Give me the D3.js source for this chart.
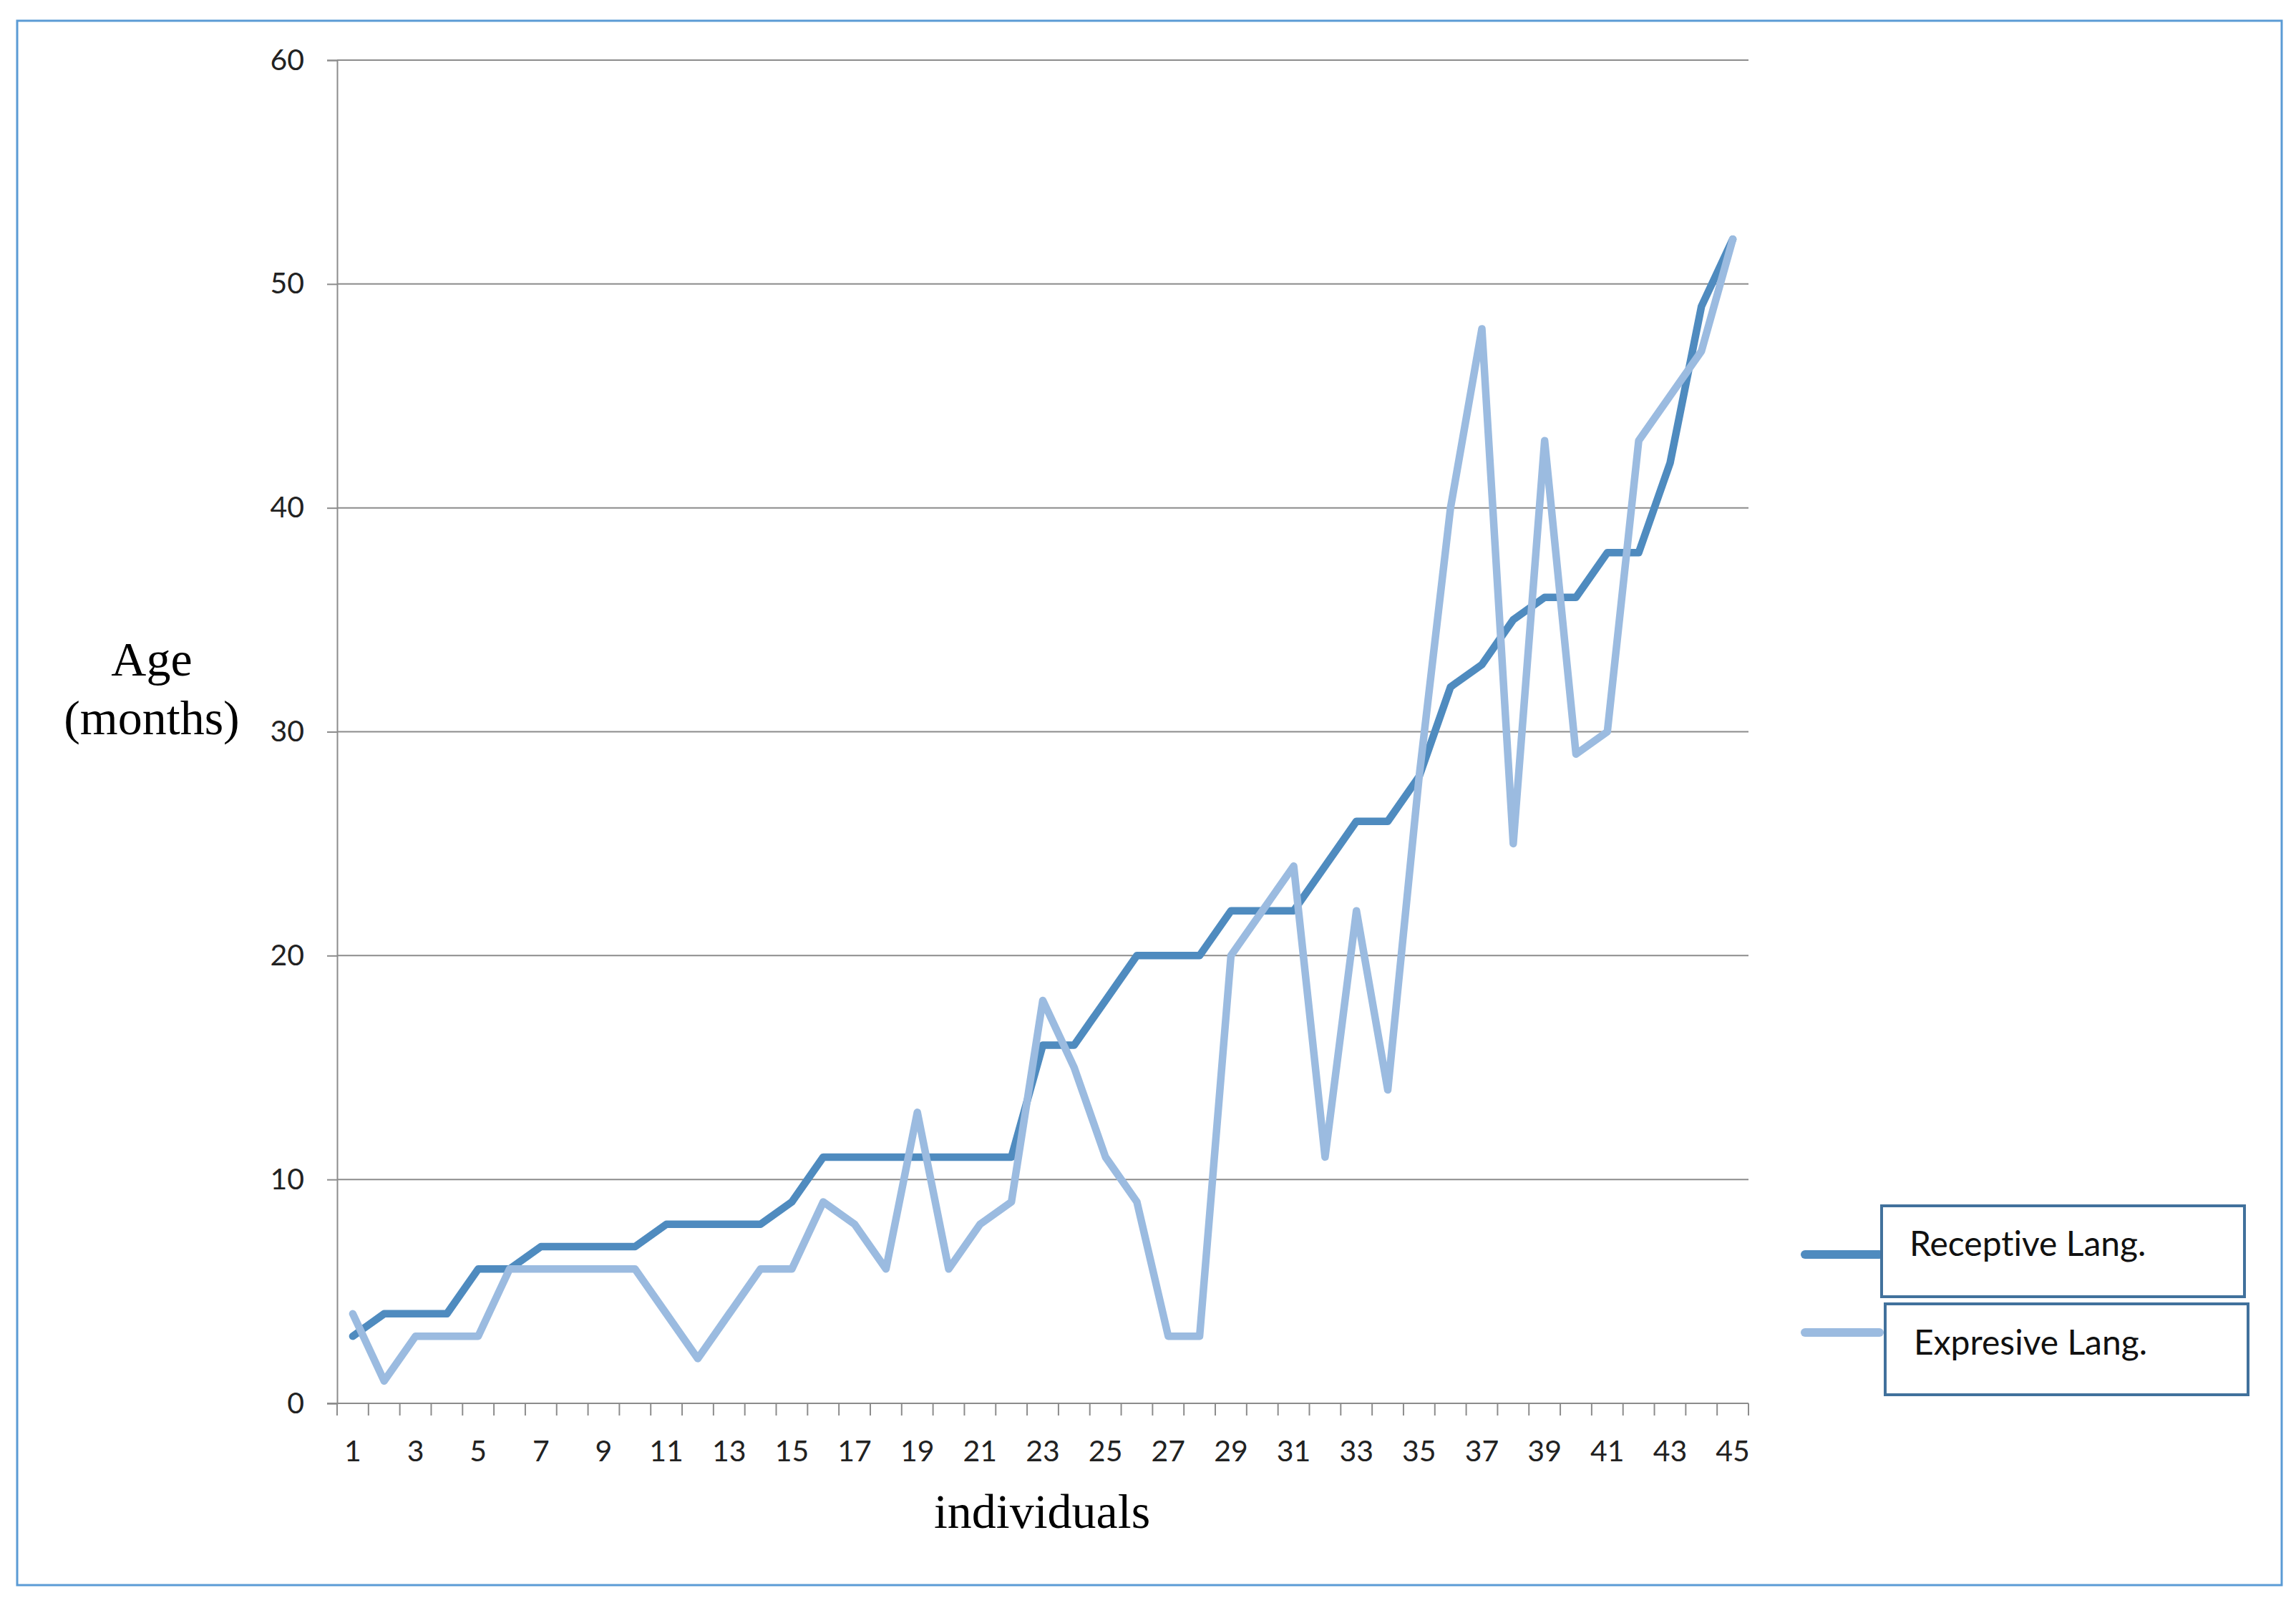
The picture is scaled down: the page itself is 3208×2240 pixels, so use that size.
<!DOCTYPE html>
<html>
<head>
<meta charset="utf-8">
<script src="https://cdn.jsdelivr.net/npm/d3@7"></script>
<style>
  html, body { margin: 0; padding: 0; background: #fff; }
  svg { display: block; }
  text { font-variant-ligatures: none; }
</style>
</head>
<body>
<div id="chart"></div>
<script>
// individuals 1..45
const individuals = d3.range(1, 46);

// ages in months
const receptive = [3, 4, 4, 4, 6, 6, 7, 7, 7, 7, 8, 8, 8, 8, 9, 11, 11, 11, 11, 11, 11, 11,
    16, 16, 18, 20, 20, 20, 22, 22, 22, 24, 26, 26, 28, 32, 33, 35, 36, 36, 38, 38, 42, 49, 52];
const expresive = [4, 1, 3, 3, 3, 6, 6, 6, 6, 6, 4, 2, 4, 6, 6, 9, 8, 6, 13, 6, 8, 9,
    18, 15, 11, 9, 3, 3, 20, 22, 24, 11, 22, 14, 28, 40, 48, 25, 43, 29, 30, 43, 45, 47, 52];

const yTicks = [0, 10, 20, 30, 40, 50, 60];
const xTickLabels = individuals.filter(d => d % 2 === 1);

const seriesNames = ['Receptive Lang.', 'Expresive Lang.'];
const seriesColors = ['#4f8bbf', '#9bbbe0'];

const W = 3208, H = 2240;
const plot = { left: 471, right: 2443, top: 84, bottom: 1961 };

const svg = d3.select('#chart').append('svg')
    .attr('width', W)
    .attr('height', H);

// outer frame
svg.append('rect')
    .attr('x', 24).attr('y', 29)
    .attr('width', 3164).attr('height', 2186)
    .attr('fill', '#fff')
    .attr('stroke', '#5b9bd5')
    .attr('stroke-width', 3);

const x = d3.scaleBand()
    .domain(individuals)
    .range([plot.left, plot.right]);

const y = d3.scaleLinear()
    .domain([0, 60])
    .range([plot.bottom, plot.top]);

const gray = '#8c8c8c';
const tickFont = 'Lato, "Open Sans", sans-serif';

// horizontal gridlines
svg.append('g')
    .selectAll('line')
    .data(yTicks.filter(d => d > 0))
    .join('line')
    .attr('x1', plot.left).attr('x2', plot.right)
    .attr('y1', d => y(d)).attr('y2', d => y(d))
    .attr('stroke', gray)
    .attr('stroke-width', 2);

// y axis
const yAxis = svg.append('g')
    .attr('transform', `translate(${plot.left},0)`)
    .call(d3.axisLeft(y).tickValues(yTicks).tickSize(14).tickPadding(32));
yAxis.select('.domain').attr('stroke', gray).attr('stroke-width', 2);
yAxis.selectAll('.tick line').attr('stroke', gray).attr('stroke-width', 2);
yAxis.selectAll('.tick text')
    .attr('font-family', tickFont)
    .attr('font-size', 41)
    .attr('fill', '#222');

// x axis: ticks on category boundaries, labels on odd individuals
const xAxisG = svg.append('g')
    .attr('transform', `translate(0,${plot.bottom})`);
xAxisG.append('line')
    .attr('x1', plot.left - 14).attr('x2', plot.right)
    .attr('stroke', gray).attr('stroke-width', 2);
xAxisG.selectAll('.xtick')
    .data(d3.range(0, individuals.length + 1))
    .join('line')
    .attr('class', 'xtick')
    .attr('x1', d => plot.left + d * x.step())
    .attr('x2', d => plot.left + d * x.step())
    .attr('y1', 0).attr('y2', 17)
    .attr('stroke', gray).attr('stroke-width', 2);
xAxisG.selectAll('.xlabel')
    .data(xTickLabels)
    .join('text')
    .attr('class', 'xlabel')
    .attr('x', d => x(d) + x.bandwidth() / 2)
    .attr('y', 81)
    .attr('text-anchor', 'middle')
    .attr('font-family', tickFont)
    .attr('font-size', 41)
    .attr('fill', '#222')
    .text(d => d);

// axis titles
const titleFont = '"Liberation Serif", "Times New Roman", serif';
svg.append('text')
    .attr('x', 212).attr('y', 944)
    .attr('text-anchor', 'middle')
    .attr('font-family', titleFont)
    .attr('font-size', 68)
    .text('Age');
svg.append('text')
    .attr('x', 212).attr('y', 1026)
    .attr('text-anchor', 'middle')
    .attr('font-family', titleFont)
    .attr('font-size', 68)
    .text('(months)');
svg.append('text')
    .attr('x', 1456).attr('y', 2135)
    .attr('text-anchor', 'middle')
    .attr('font-family', titleFont)
    .attr('font-size', 68)
    .text('individuals');

// lines
const line = d3.line()
    .x((d, i) => x(individuals[i]) + x.bandwidth() / 2)
    .y(d => y(d));

[receptive, expresive].forEach((values, i) => {
    svg.append('path')
        .datum(values)
        .attr('d', line)
        .attr('fill', 'none')
        .attr('stroke', seriesColors[i])
        .attr('stroke-width', 10.5)
        .attr('stroke-linejoin', 'round')
        .attr('stroke-linecap', 'round');
});

// legend: swatch + boxed label
const legendRows = [
    { box: [2629, 1685, 507, 127], swatchY: 1753, textX: 2668, textY: 1755 },
    { box: [2634, 1822, 507, 127], swatchY: 1862, textX: 2674, textY: 1893 }
];

legendRows.forEach((row, i) => {
    svg.append('line')
        .attr('x1', 2522).attr('x2', 2626)
        .attr('y1', row.swatchY).attr('y2', row.swatchY)
        .attr('stroke', seriesColors[i])
        .attr('stroke-width', 12)
        .attr('stroke-linecap', 'round');
    svg.append('rect')
        .attr('x', row.box[0]).attr('y', row.box[1])
        .attr('width', row.box[2]).attr('height', row.box[3])
        .attr('fill', '#fff')
        .attr('stroke', '#41719c')
        .attr('stroke-width', 4);
    svg.append('text')
        .attr('x', row.textX).attr('y', row.textY)
        .attr('font-family', tickFont)
        .attr('font-size', 48)
        .attr('fill', '#111')
        .text(seriesNames[i]);
});
</script>
</body>
</html>
